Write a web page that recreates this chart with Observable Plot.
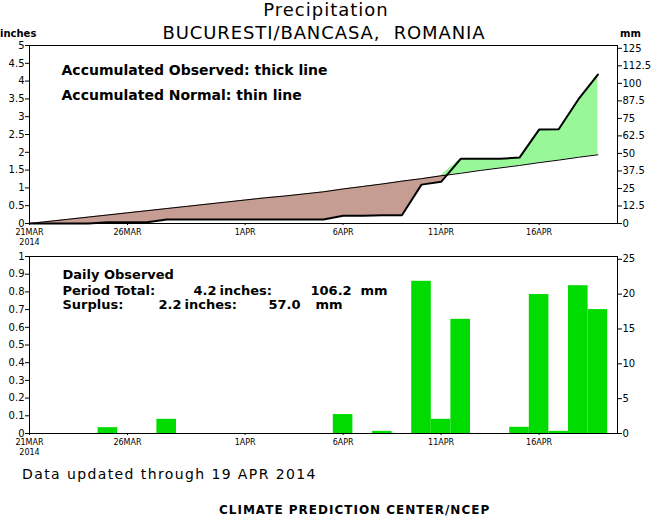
<!DOCTYPE html>
<html><head><meta charset="utf-8">
<script src="https://cdn.jsdelivr.net/npm/d3@7"></script>
<script src="https://cdn.jsdelivr.net/npm/@observablehq/plot@0.6"></script>
<style>
body{margin:0;background:#fff;}
#wrap{position:relative;width:652px;height:518px;background:#fff;font-family:"DejaVu Sans",sans-serif;color:#000;overflow:hidden}
.t{position:absolute;white-space:pre;line-height:1;}
#wrap svg{position:absolute;left:0;overflow:visible;}
</style></head><body><div id="wrap"></div>
<script>
// ---- data ----
const dates = ["2014-03-21","2014-03-22","2014-03-23","2014-03-24","2014-03-25","2014-03-26","2014-03-27","2014-03-28","2014-03-29","2014-03-30",
  "2014-03-31","2014-04-01","2014-04-02","2014-04-03","2014-04-04","2014-04-05","2014-04-06","2014-04-07","2014-04-08","2014-04-09",
  "2014-04-10","2014-04-11","2014-04-12","2014-04-13","2014-04-14","2014-04-15","2014-04-16","2014-04-17","2014-04-18","2014-04-19"];
// daily observed precipitation (inches)
const dailyObs = [0,0,0,0,0.033,0,0,0.08,0,0,
  0,0,0,0,0,0,0.107,0,0.012,0,
  0.86,0.08,0.645,0,0,0.035,0.785,0.012,0.835,0.70];
// accumulated normal precipitation (inches)
const normalAccum = [0.00,0.06,0.12,0.18,0.24,0.30,0.36,0.42,0.48,0.54,
  0.60,0.66,0.72,0.77,0.83,0.89,0.97,1.04,1.11,1.19,
  1.26,1.34,1.41,1.49,1.56,1.63,1.71,1.78,1.86,1.93];
const xDomain = ["2014-03-21","2014-04-20"];
const xTicks = ["2014-03-21","2014-03-26","2014-04-01","2014-04-06","2014-04-11","2014-04-16"];
const xTickLabels = ["21MAR\n2014","26MAR","1APR","6APR","11APR","16APR"];
const topInchTicks = [0,0.5,1,1.5,2,2.5,3,3.5,4,4.5,5];
const topMmTicks = [0,12.5,25,37.5,50,62.5,75,87.5,100,112.5,125];
const botInchTicks = [0,0.1,0.2,0.3,0.4,0.5,0.6,0.7,0.8,0.9,1];
const botMmTicks = [0,5,10,15,20,25];

const BROWN = "#c59d93", PALEGREEN = "#98f898", BARGREEN = "#00dc00";
const FONT = "DejaVu Sans";

const parse = d3.utcParse("%Y-%m-%d");
const obsAccum = d3.cumsum(dailyObs);
const rows = dates.map((d, i) => ({date: parse(d), daily: dailyObs[i], obs: obsAccum[i], normal: normalAccum[i]}));
const DAY = 864e5;
const mmFmt = v => String(Math.round(v * 25.4 * 10) / 10);

const wrap = document.getElementById("wrap");
function addText(txt, css) {
  const d = document.createElement("div");
  d.className = "t"; d.textContent = txt;
  Object.assign(d.style, css);
  wrap.appendChild(d);
}

function xAxis() {
  return Plot.axisX(xTicks.map(parse), {anchor: "bottom", label: null, tickSize: 2, tickPadding: 2, fontSize: 8, lineHeight: 1.3,
    tickFormat: (d, i) => xTickLabels[i]});
}
function yAxes(inchTicks, mmTicks) {
  return [
    Plot.axisY(inchTicks, {anchor: "left", label: null, tickSize: 4, tickPadding: 1, fontSize: 10, tickFormat: d => String(d)}),
    Plot.axisY(mmTicks.map(v => v / 25.4), {anchor: "right", label: null, tickSize: 4, tickPadding: 1, fontSize: 10, tickFormat: mmFmt})
  ];
}

// difference fill between accumulated observed and normal
let diffMarks;
if (typeof Plot.difference === "function") {
  diffMarks = [Plot.difference(rows, {x: "date", y1: "normal", y2: "obs", positiveFill: PALEGREEN, negativeFill: BROWN,
    fillOpacity: 1, stroke: "none"})];
} else {
  diffMarks = [
    Plot.areaY(rows, {x: "date", y1: "obs", y2: d => Math.max(d.obs, d.normal), fill: BROWN}),
    Plot.areaY(rows, {x: "date", y1: "normal", y2: d => Math.max(d.obs, d.normal), fill: PALEGREEN})
  ];
}

const topPlot = Plot.plot({
  width: 652, height: 250, marginTop: 45, marginBottom: 27, marginLeft: 29, marginRight: 35,
  style: {fontFamily: FONT, background: "transparent", color: "#000"},
  x: {type: "utc", domain: xDomain.map(parse), axis: null},
  y: {domain: [0, 5], axis: null},
  marks: [
    ...diffMarks,
    Plot.line(rows, {x: "date", y: "normal", stroke: "#000", strokeWidth: 1}),
    Plot.line(rows, {x: "date", y: "obs", stroke: "#000", strokeWidth: 2}),
    Plot.frame({stroke: "#000", strokeWidth: 1}),
    ...yAxes(topInchTicks, topMmTicks),
    xAxis(),
    Plot.text(["Accumulated Observed: thick line"], {frameAnchor: "top-left", dx: 32, dy: 25, textAnchor: "start", lineAnchor: "middle", fontSize: 14, fontWeight: "bold"}),
    Plot.text(["Accumulated Normal: thin line"], {frameAnchor: "top-left", dx: 32, dy: 50, textAnchor: "start", lineAnchor: "middle", fontSize: 14, fontWeight: "bold"})
  ]
});
topPlot.style.top = "0px";
wrap.appendChild(topPlot);

const lbl = (txt, dx, dy) => Plot.text([txt], {frameAnchor: "top-left", dx, dy, textAnchor: "start", lineAnchor: "middle", fontSize: 13, fontWeight: "bold", letterSpacing: 0.3});
const botPlot = Plot.plot({
  width: 652, height: 210, marginTop: 6, marginBottom: 27, marginLeft: 29, marginRight: 35,
  style: {fontFamily: FONT, background: "transparent", color: "#000"},
  x: {type: "utc", domain: xDomain.map(parse), axis: null},
  y: {domain: [0, 1], axis: null},
  marks: [
    Plot.rectY(rows.filter(d => d.daily > 0), {x1: d => new Date(+d.date - DAY / 2), x2: d => new Date(+d.date + DAY / 2), y: "daily", fill: BARGREEN}),
    Plot.frame({stroke: "#000", strokeWidth: 1}),
    ...yAxes(botInchTicks, botMmTicks),
    xAxis(),
    lbl("Daily Observed", 33, 18.5),
    lbl("Period Total:", 33, 34.5), lbl("4.2", 164, 34.5), lbl("inches:", 190, 34.5), lbl("106.2", 281, 34.5), lbl("mm", 331, 34.5),
    lbl("Surplus:", 33, 48.7), lbl("2.2", 129, 48.7), lbl("inches:", 155, 48.7), lbl("57.0", 239, 48.7), lbl("mm", 286, 48.7)
  ]
});
botPlot.style.top = "250px";
wrap.appendChild(botPlot);

addText("Precipitation", {left: "0px", width: "652px", textAlign: "center", top: "1px", fontSize: "18px", letterSpacing: "1px"});
addText("BUCURESTI/BANCASA,  ROMANIA", {left: "0px", width: "648px", textAlign: "center", top: "24px", fontSize: "18px", letterSpacing: "0.9px"});
addText("inches", {left: "0px", top: "29px", fontSize: "10px", fontWeight: "bold"});
addText("mm", {left: "620px", top: "29px", fontSize: "10px", fontWeight: "bold"});
addText("Data updated through 19 APR 2014", {left: "22px", top: "467px", fontSize: "14px", letterSpacing: "1.4px"});
addText("CLIMATE PREDICTION CENTER/NCEP", {left: "219px", top: "504px", fontSize: "12px", fontWeight: "bold", letterSpacing: "1px"});
</script></body></html>
